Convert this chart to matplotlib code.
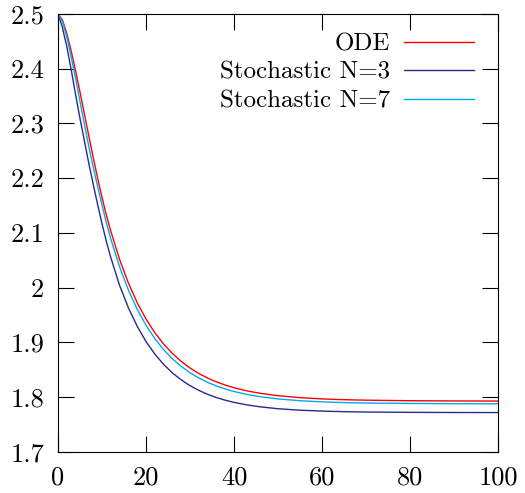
import matplotlib
matplotlib.use('Agg')
import matplotlib.pyplot as plt

plt.rcParams['font.family'] = 'serif'
plt.rcParams['font.serif'] = ['cmr10', 'DejaVu Serif']
plt.rcParams['axes.formatter.use_mathtext'] = True

# time points and values
t = [0, 1, 2, 3, 4, 5, 6, 7, 8, 9, 10, 11, 12,
     14, 16, 18, 20, 22, 24, 26, 28, 30, 32, 34, 36, 38, 40,
     43, 46, 50, 55, 60, 65, 70, 80, 90, 100]
ode = [2.500, 2.489, 2.464, 2.432, 2.396, 2.357, 2.317, 2.277, 2.238, 2.200,
       2.165, 2.132, 2.103,
       2.0514, 2.0084, 1.9726, 1.9427, 1.9178, 1.8971, 1.8798, 1.8654,
       1.8534, 1.8433, 1.8350, 1.8280, 1.8222, 1.8173,
       1.8115, 1.8071, 1.8028, 1.7992, 1.7969, 1.7955, 1.7946, 1.7936,
       1.7932, 1.793]
stoch3 = [2.500, 2.475, 2.440, 2.398, 2.352, 2.309, 2.268, 2.227, 2.189,
          2.152, 2.117, 2.084, 2.055,
          2.0041, 1.9632, 1.9295, 1.9017, 1.8788, 1.8600, 1.8444, 1.8317,
          1.8211, 1.8125, 1.8053, 1.7994, 1.7946, 1.7906,
          1.7859, 1.7824, 1.7790, 1.7763, 1.7747, 1.7736, 1.7730, 1.7724,
          1.7721, 1.772]
stoch7 = [2.500, 2.486, 2.458, 2.421, 2.382, 2.340, 2.298, 2.258, 2.220,
          2.185, 2.151, 2.118, 2.089,
          2.0379, 1.9957, 1.9605, 1.9314, 1.9071, 1.8870, 1.8703, 1.8564,
          1.8448, 1.8352, 1.8272, 1.8206, 1.8151, 1.8105,
          1.8050, 1.8009, 1.7969, 1.7936, 1.7915, 1.7902, 1.7894, 1.7886,
          1.7882, 1.788]

xticks = [0, 20, 40, 60, 80, 100]
yticks = [1.7, 1.8, 1.9, 2.0, 2.1, 2.2, 2.3, 2.4, 2.5]
ylabels = ['1.7', '1.8', '1.9', '2', '2.1', '2.2', '2.3', '2.4', '2.5']

fig = plt.figure(figsize=(5.25, 4.93), dpi=100)
ax = fig.add_axes([58/525, 41/493, 440/525, 438.2/493])

ax.plot(t, ode, color='#ff0000', lw=1.0, label='ODE')
ax.plot(t, stoch3, color='#2a2a8c', lw=1.0, label='Stochastic N=3')
ax.plot(t, stoch7, color='#00aaee', lw=1.0, label='Stochastic N=7')

ax.set_xlim(0, 100)
ax.set_ylim(1.7, 2.5)
ax.set_xticks(xticks)
ax.set_xticklabels([str(v) for v in xticks])
ax.set_yticks(yticks)
ax.set_yticklabels(ylabels)
ax.tick_params(direction='in', length=11.5, width=0.8, top=True, right=True,
               labelsize=19)
ax.tick_params(axis='x', pad=10)
ax.tick_params(axis='y', pad=10)
for s in ax.spines.values():
    s.set_linewidth(0.8)

ax.legend(loc='upper right', bbox_to_anchor=(416/440, 1 - 19/438.2),
          frameon=False, markerfirst=False, fontsize=18, handlelength=2.8,
          handletextpad=0.56, labelspacing=0.24, borderpad=0, borderaxespad=0)

fig.savefig('out.png', dpi=100)
